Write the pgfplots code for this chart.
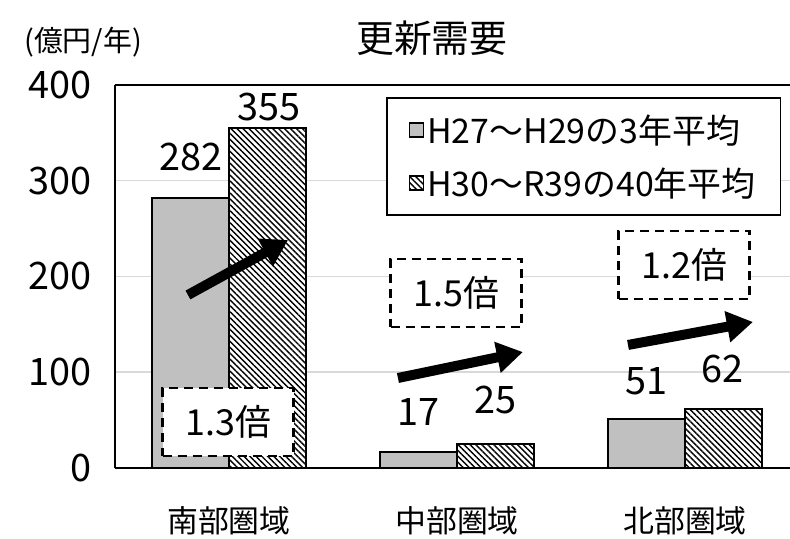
\documentclass[border=0pt]{standalone}
\usepackage{pgfplots}
\pgfplotsset{compat=1.18}
\usepackage{fontspec}
\setmainfont{Noto Sans CJK JP}
\usetikzlibrary{patterns.meta,arrows.meta}

\definecolor{barfill}{HTML}{C0C0C0}
\definecolor{gridgray}{HTML}{D9D9D9}

\pgfplotsset{
  sqlegend/.style={legend image code/.code={\draw[##1, line width=1.3bp] (0bp,-7bp) rectangle (14bp,7bp);}},
}
\tikzset{
  ratio box/.style={draw=black, line width=2.5bp, dash pattern=on 9bp off 6bp, fill=white,
    minimum width=131bp, minimum height=68bp, font=\fontsize{36}{38}\selectfont},
  big arrow/.style={line width=10bp, -{Triangle[length=26bp,width=30bp]}},
}

\begin{document}
\begin{tikzpicture}
\begin{axis}[
  scale only axis,
  width=675bp, height=383bp,
  xmin=-0.5, xmax=2.4605,
  ymin=0, ymax=400,
  ybar, bar width=0.338,
  xtick={0,1,2},
  xticklabels={南部圏域,中部圏域,北部圏域},
  ytick={0,100,200,300,400},
  axis x line*=box, axis y line*=left,
  axis line style={-, line width=2.5bp},
  major tick length=0pt,
  ymajorgrids, grid style={gridgray, line width=1.5bp},
  /pgf/number format/assume math mode=true,
  yticklabel style={font=\fontsize{38}{40}\selectfont, anchor=east, inner sep=0pt, xshift=-23bp},
  xticklabel style={font=\fontsize{31}{33}\selectfont, anchor=center, yshift=-53bp},
  legend style={at={(0.4015,0.9687)}, anchor=north west, draw=black, line width=1.8bp, fill=white,
    inner xsep=22bp, inner ysep=14bp, row sep=17bp, nodes={inner sep=3bp},
    font=\fontsize{34}{36}\selectfont},
  legend cell align=left,
  clip=false,
]
\addplot[draw=black, line width=1.8bp, fill=barfill, bar shift=-0.169, sqlegend]
  coordinates {(0,282) (1,17) (2,51)};
\addlegendentry{H27～H29の3年平均}
\addplot[draw=black, line width=1.8bp, preaction={fill=white},
  pattern={Lines[angle=-45,distance=4.2bp,line width=1.4bp]}, pattern color=black,
  bar shift=0.169, sqlegend]
  coordinates {(0,355) (1,25) (2,62)};
\addlegendentry{H30～R39の40年平均}

% value labels
\node[font=\fontsize{38}{40}\selectfont] at (axis cs:-0.167,324.8) {282};
\node[font=\fontsize{38}{40}\selectfont] at (axis cs:0.175,377) {355};
\node[font=\fontsize{38}{40}\selectfont] at (axis cs:0.833,58.5) {17};
\node[font=\fontsize{38}{40}\selectfont] at (axis cs:1.167,71) {25};
\node[font=\fontsize{38}{40}\selectfont] at (axis cs:1.833,91) {51};
\node[font=\fontsize{38}{40}\selectfont] at (axis cs:2.163,103) {62};

% growth arrows
\draw[big arrow] (axis cs:-0.18,180.7) -- (axis cs:0.259,238.1);
\draw[big arrow] (axis cs:0.741,94) -- (axis cs:1.289,121.1);
\draw[big arrow] (axis cs:1.75,128.5) -- (axis cs:2.298,152.5);

% ratio boxes
\node[ratio box] at (axis cs:-0.004,48) {1.3倍};
\node[ratio box] at (axis cs:0.996,183) {1.5倍};
\node[ratio box] at (axis cs:1.996,212) {1.2倍};

% title and unit
\node[font=\fontsize{38}{40}\selectfont] at (axis cs:0.89,449) {更新需要};
\node[font=\fontsize{29}{31}\selectfont] at (axis cs:-0.64,445) {(億円/年)};

\coordinate (ll) at (rel axis cs:0,0);
\coordinate (ur) at (rel axis cs:1,1);
\end{axis}
\pgfresetboundingbox
\path[use as bounding box] ([xshift=-115bp,yshift=-71bp]ll) rectangle ([yshift=85bp]ur);
\end{tikzpicture}
\end{document}
